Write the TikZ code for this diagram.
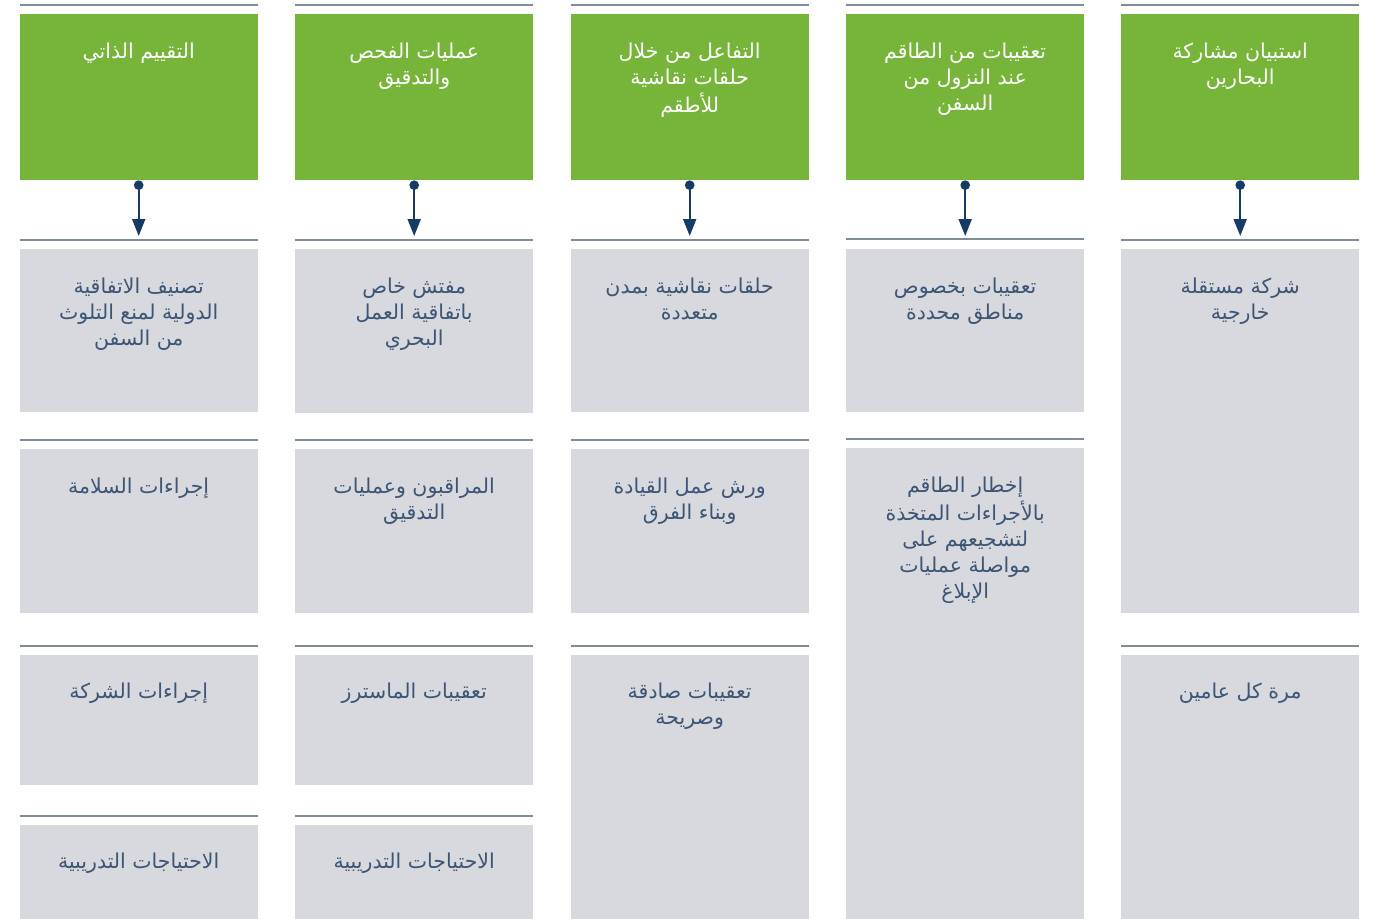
\documentclass[tikz,border=0pt]{standalone}
\usepackage{fontspec}
\usetikzlibrary{arrows.meta}
\newfontfamily\arabicfont[Script=Arabic]{DejaVu Sans}
\TeXXeTstate=1
\definecolor{hdrgreen}{HTML}{76B53A}
\definecolor{cellgrey}{HTML}{D8D9DE}
\definecolor{sepgrey}{HTML}{808C9A}
\definecolor{celltext}{HTML}{3D5575}
\definecolor{arrownavy}{HTML}{163C63}
\newcommand{\ar}[1]{\strut\beginR #1\endR}
\tikzset{
  hdr/.style={fill=hdrgreen, inner sep=0, anchor=north west, minimum width=238pt, minimum height=166pt},
  cell/.style={fill=cellgrey, inner sep=0, anchor=north west, minimum width=238pt},
  sepline/.style={draw=sepgrey, line width=2pt},
  hdrtxt/.style={anchor=north, inner sep=0, align=center, text=white, font=\arabicfont\fontsize{20.5}{26}\selectfont},
  celltxt/.style={anchor=north, inner sep=0, align=center, text=celltext, font=\arabicfont\fontsize{20.5}{26}\selectfont},
  arr/.style={draw=arrownavy, line width=2pt, {Circle[length=9.5pt,width=9.5pt]}-{Triangle[length=17pt,width=13pt]}}
}
\begin{document}
\begin{tikzpicture}[x=1pt,y=-1pt]
\useasboundingbox (0,0) rectangle (1376,919);
% headers
\node[hdr] (g1) at (19.5,14) {};
\node[hdr] (g2) at (295,14) {};
\node[hdr] (g3) at (570.5,14) {};
\node[hdr] (g4) at (846,14) {};
\node[hdr] (g5) at (1121,14) {};
% column 1
\node[cell, minimum height=162.5pt] (c1a) at (19.5,249) {};
\node[cell, minimum height=163.5pt] (c1b) at (19.5,449) {};
\node[cell, minimum height=130pt] (c1c) at (19.5,655) {};
\node[cell, minimum height=94pt] (c1d) at (19.5,825) {};
% column 2
\node[cell, minimum height=163.5pt] (c2a) at (295,249) {};
\node[cell, minimum height=163.5pt] (c2b) at (295,449) {};
\node[cell, minimum height=130pt] (c2c) at (295,655) {};
\node[cell, minimum height=94pt] (c2d) at (295,825) {};
% column 3
\node[cell, minimum height=162.5pt] (c3a) at (570.5,249) {};
\node[cell, minimum height=163.5pt] (c3b) at (570.5,449) {};
\node[cell, minimum height=264pt] (c3c) at (570.5,655) {};
% column 4
\node[cell, minimum height=163pt] (c4a) at (846,248.5) {};
\node[cell, minimum height=471pt] (c4b) at (846,448) {};
% column 5
\node[cell, minimum height=363.5pt] (c5a) at (1121,249) {};
\node[cell, minimum height=264pt] (c5b) at (1121,655) {};
% separator lines
\foreach \n in {g1,g2,g3,g4,g5,c1a,c1b,c1c,c1d,c2a,c2b,c2c,c2d,c3a,c3b,c3c,c4a,c4b,c5a,c5b}
  \draw[sepline] ([yshift=9.5pt]\n.north west) -- ([yshift=9.5pt]\n.north east);
% arrows
\draw[arr] (g1.south) -- ([yshift=13pt]c1a.north);
\draw[arr] (g2.south) -- ([yshift=13pt]c2a.north);
\draw[arr] (g3.south) -- ([yshift=13pt]c3a.north);
\draw[arr] (g4.south) -- ([yshift=12.5pt]c4a.north);
\draw[arr] (g5.south) -- ([yshift=13pt]c5a.north);
% header texts
\node[hdrtxt] (t-g1) at ([yshift=-26pt]g1.north) {\ar{التقييم الذاتي}};
\node[hdrtxt] (t-g2) at ([yshift=-26pt]g2.north) {\ar{عمليات الفحص}\\\ar{والتدقيق}};
\node[hdrtxt] (t-g3) at ([yshift=-26pt]g3.north) {\ar{التفاعل من خلال}\\\ar{حلقات نقاشية}\\\ar{للأطقم}};
\node[hdrtxt] (t-g4) at ([yshift=-26pt]g4.north) {\ar{تعقيبات من الطاقم}\\\ar{عند النزول من}\\\ar{السفن}};
\node[hdrtxt] (t-g5) at ([yshift=-26pt]g5.north) {\ar{استبيان مشاركة}\\\ar{البحارين}};
% cell texts
\node[celltxt] (t-c1a) at ([yshift=-26pt]c1a.north) {\ar{تصنيف الاتفاقية}\\\ar{الدولية لمنع التلوث}\\\ar{من السفن}};
\node[celltxt] (t-c1b) at ([yshift=-26pt]c1b.north) {\ar{إجراءات السلامة}};
\node[celltxt] (t-c1c) at ([yshift=-25.5pt]c1c.north) {\ar{إجراءات الشركة}};
\node[celltxt] (t-c1d) at ([yshift=-25.5pt]c1d.north) {\ar{الاحتياجات التدريبية}};
\node[celltxt] (t-c2a) at ([yshift=-26pt]c2a.north) {\ar{مفتش خاص}\\\ar{باتفاقية العمل}\\\ar{البحري}};
\node[celltxt] (t-c2b) at ([yshift=-26pt]c2b.north) {\ar{المراقبون وعمليات}\\\ar{التدقيق}};
\node[celltxt] (t-c2c) at ([yshift=-25.5pt]c2c.north) {\ar{تعقيبات الماسترز}};
\node[celltxt] (t-c2d) at ([yshift=-25.5pt]c2d.north) {\ar{الاحتياجات التدريبية}};
\node[celltxt] (t-c3a) at ([yshift=-26pt]c3a.north) {\ar{حلقات نقاشية بمدن}\\\ar{متعددة}};
\node[celltxt] (t-c3b) at ([yshift=-26pt]c3b.north) {\ar{ورش عمل القيادة}\\\ar{وبناء الفرق}};
\node[celltxt] (t-c3c) at ([yshift=-25.5pt]c3c.north) {\ar{تعقيبات صادقة}\\\ar{وصريحة}};
\node[celltxt] (t-c4a) at ([yshift=-26.5pt]c4a.north) {\ar{تعقيبات بخصوص}\\\ar{مناطق محددة}};
\node[celltxt] (t-c4b) at ([yshift=-26pt]c4b.north) {\ar{إخطار الطاقم}\\\ar{بالأجراءات المتخذة}\\\ar{لتشجيعهم على}\\\ar{مواصلة عمليات}\\\ar{الإبلاغ}};
\node[celltxt] (t-c5a) at ([yshift=-26pt]c5a.north) {\ar{شركة مستقلة}\\\ar{خارجية}};
\node[celltxt] (t-c5b) at ([yshift=-25.5pt]c5b.north) {\ar{مرة كل عامين}};
\end{tikzpicture}
\end{document}
